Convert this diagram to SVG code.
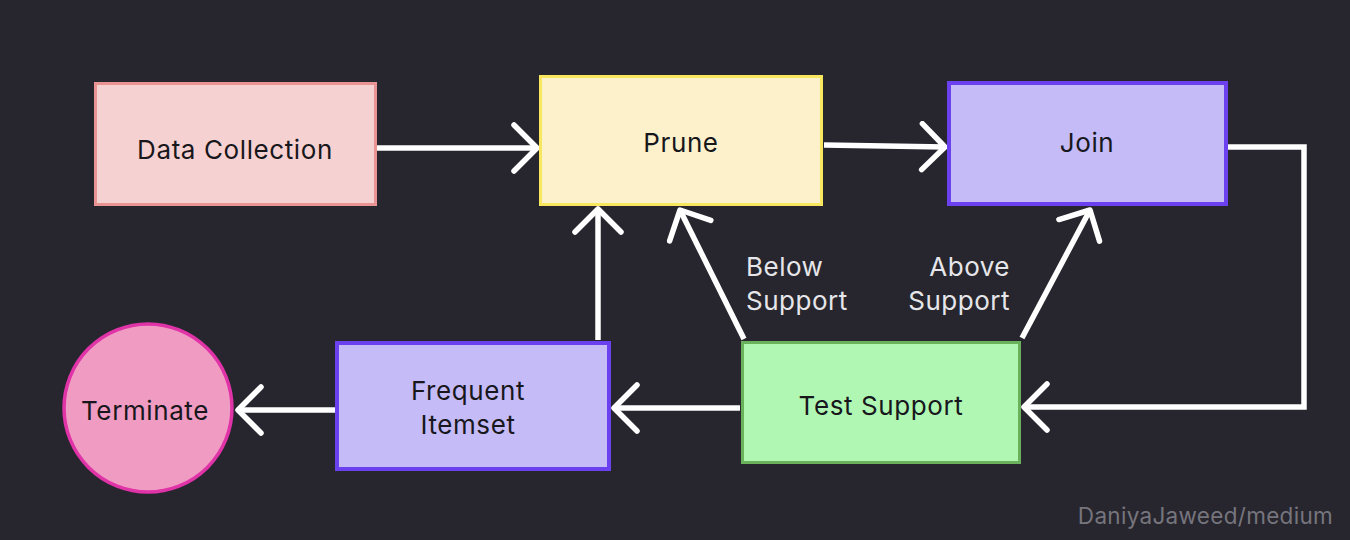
<svg xmlns="http://www.w3.org/2000/svg" width="1350" height="540" viewBox="0 0 1350 540">
<defs>
<marker id="ah" viewBox="0 0 32 52" refX="28" refY="26" markerWidth="32" markerHeight="52" markerUnits="userSpaceOnUse" orient="auto">
<path d="M5,3 L28,26 L5,49" fill="none" stroke="#ffffff" stroke-width="5.5" stroke-linecap="round" stroke-linejoin="round"/>
</marker>
<style>
.lbl{font-family:Inter,"Noto Sans","Liberation Sans",sans-serif;font-size:26px;letter-spacing:0.6px;fill:#17171c;text-anchor:middle;dominant-baseline:central}
.edge{fill:none;stroke:#ffffff;stroke-width:5.5;marker-end:url(#ah)}
.el{font-family:Inter,"Noto Sans","Liberation Sans",sans-serif;font-size:26px;letter-spacing:0.5px;fill:#e6e6ea}
</style>
</defs>
<rect width="1350" height="540" fill="#27262e"/>
<g id="connectors">
<path class="edge" d="M377,148 L537,148"/>
<path class="edge" d="M824,145 L945,147"/>
<path class="edge" d="M1228,147 L1304,147 L1304,407 L1024,407"/>
<path class="edge" d="M740,408 L614,408"/>
<path class="edge" d="M335,410 L238,410"/>
<path class="edge" d="M598,340 L598,209"/>
<path class="edge" d="M744,339 L680,210"/>
<path class="edge" d="M1022,338 L1090,210"/>
</g>
<g id="edge-labels">
<text class="el" x="746" y="276">Below</text>
<text class="el" x="746" y="310">Support</text>
<text class="el" x="1010" y="276" text-anchor="end">Above</text>
<text class="el" x="1010" y="310" text-anchor="end">Support</text>
</g>
<g id="data-collection">
<rect x="95.5" y="83.5" width="280" height="121" fill="#f6d1d1" stroke="#e99393" stroke-width="3"/>
<text class="lbl" x="235" y="149">Data Collection</text>
</g>
<g id="prune">
<rect x="540.5" y="76.5" width="281" height="128" fill="#fcf1cb" stroke="#f8e65e" stroke-width="3"/>
<text class="lbl" x="681" y="142">Prune</text>
</g>
<g id="join">
<rect x="949" y="83" width="277" height="121" fill="#c5bbf6" stroke="#6b40ee" stroke-width="4"/>
<text class="lbl" x="1087" y="142">Join</text>
</g>
<g id="frequent-itemset">
<rect x="337" y="343" width="272" height="126" fill="#c5bbf6" stroke="#6b40ee" stroke-width="4"/>
<text class="lbl" x="468" y="390">Frequent</text>
<text class="lbl" x="468" y="424">Itemset</text>
</g>
<g id="test-support">
<rect x="742.5" y="342.5" width="277" height="120" fill="#b0f7b4" stroke="#6bb15c" stroke-width="3"/>
<text class="lbl" x="881" y="405">Test Support</text>
</g>
<g id="terminate">
<circle cx="148" cy="408" r="84" fill="#f09bc2" stroke="#e033a8" stroke-width="3.5"/>
<text class="lbl" x="145" y="410">Terminate</text>
</g>
<text x="1333" y="524" text-anchor="end" font-family="Inter,'Noto Sans','Liberation Sans',sans-serif" font-size="22.5" letter-spacing="0.3" fill="#76757d">DaniyaJaweed/medium</text>
</svg>
